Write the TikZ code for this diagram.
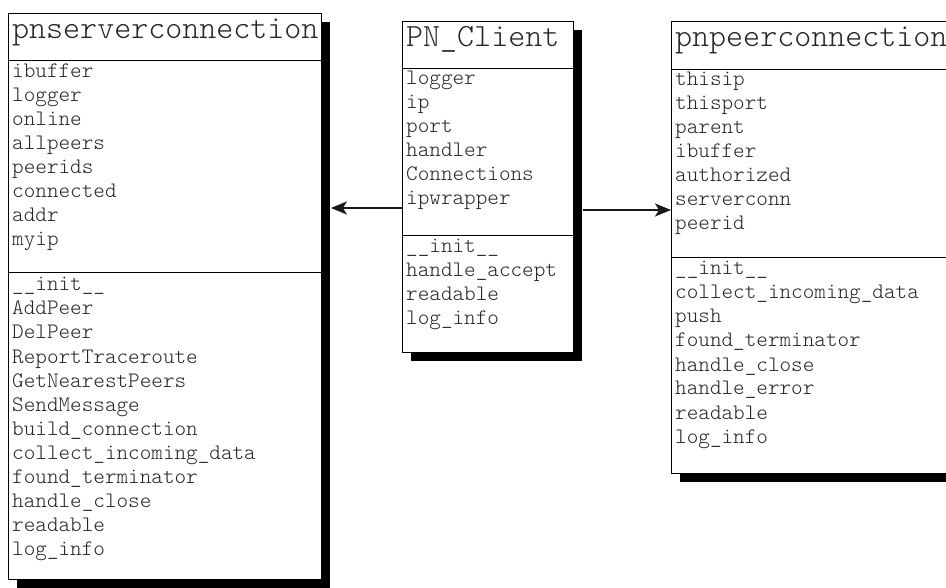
\documentclass[tikz,border=0pt]{standalone}
\usepackage{fontspec}
\newfontfamily\codefont{Latin Modern Mono Light}
\usetikzlibrary{shadows,arrows.meta}

\tikzset{
  classbox/.style={draw=black, line width=0.9pt, fill=white, inner sep=0pt,
    anchor=north west,
    drop shadow={shadow xshift=9pt, shadow yshift=-9pt, opacity=1, fill=black}},
  classname/.style={anchor=base west, inner sep=0pt, text=black!85,
    font=\codefont\fontsize{32.4}{34}\selectfont},
  member/.style={anchor=base west, inner sep=0pt, text=black!85,
    font=\codefont\fontsize{22.1}{24}\selectfont},
  divider/.style={draw=black, line width=0.9pt},
  assoc/.style={draw=black!90, line width=2pt,
    -{Stealth[length=16pt, width=13pt, inset=4pt]}},
}

\begin{document}
\begin{tikzpicture}[x=1pt, y=-1pt]
\useasboundingbox (0,0) rectangle (946,588);
\clip (0,0) rectangle (946,588);

% ---------- pnserverconnection ----------
\node[classbox, minimum width=313pt, minimum height=566pt] (srv) at (8,13) {};
\node[classname] (srv-name) at (12,38.5) {pnserverconnection};
\draw[divider] ([yshift=-47.5pt]srv.north west) -- ([yshift=-47.5pt]srv.north east);
\draw[divider] ([yshift=-259pt]srv.north west) -- ([yshift=-259pt]srv.north east);
\foreach \m [count=\i from 0] in {ibuffer, logger, online, allpeers, peerids,
    connected, addr, myip}
  \node[member] (srv-a\i) at (12,{78+24*\i}) {\m};
\foreach \m [count=\i from 0] in {\_\_init\_\_, AddPeer, DelPeer,
    ReportTraceroute, GetNearestPeers, SendMessage, build\_connection,
    collect\_incoming\_data, found\_terminator, handle\_close, readable,
    log\_info}
  \node[member] (srv-m\i) at (12,{291+24*\i}) {\m};

% ---------- PN_Client ----------
\node[classbox, minimum width=171pt, minimum height=331.3pt] (cli) at (402,20.7) {};
\node[classname] (cli-name) at (406,46.5) {PN\_Client};
\draw[divider] ([yshift=-47.5pt]cli.north west) -- ([yshift=-47.5pt]cli.north east);
\draw[divider] ([yshift=-214.3pt]cli.north west) -- ([yshift=-214.3pt]cli.north east);
\foreach \m [count=\i from 0] in {logger, ip, port, handler, Connections, ipwrapper}
  \node[member] (cli-a\i) at (406,{85+24*\i}) {\m};
\foreach \m [count=\i from 0] in {\_\_init\_\_, handle\_accept, readable, log\_info}
  \node[member] (cli-m\i) at (406,{253+24*\i}) {\m};

% ---------- pnpeerconnection ----------
\node[classbox, minimum width=290pt, minimum height=452.3pt] (peer) at (671,20.7) {};
\node[classname] (peer-name) at (675,46.5) {pnpeerconnection};
\draw[divider] ([yshift=-48.3pt]peer.north west) -- ([yshift=-48.3pt]peer.north east);
\draw[divider] ([yshift=-236.3pt]peer.north west) -- ([yshift=-236.3pt]peer.north east);
\foreach \m [count=\i from 0] in {thisip, thisport, parent, ibuffer, authorized,
    serverconn, peerid}
  \node[member] (peer-a\i) at (675,{86+24*\i}) {\m};
\foreach \m [count=\i from 0] in {\_\_init\_\_, collect\_incoming\_data, push,
    found\_terminator, handle\_close, handle\_error, readable, log\_info}
  \node[member] (peer-m\i) at (675,{275+24*\i}) {\m};

% ---------- associations ----------
\coordinate (srv-shade) at ([xshift=9pt]srv.east);
\coordinate (cli-shade) at ([xshift=9pt]cli.east);
\draw[assoc] (cli.west |- 0,208) -- (srv-shade |- 0,208);
\draw[assoc] (cli-shade |- 0,210) -- (peer.west |- 0,210);
\end{tikzpicture}
\end{document}
